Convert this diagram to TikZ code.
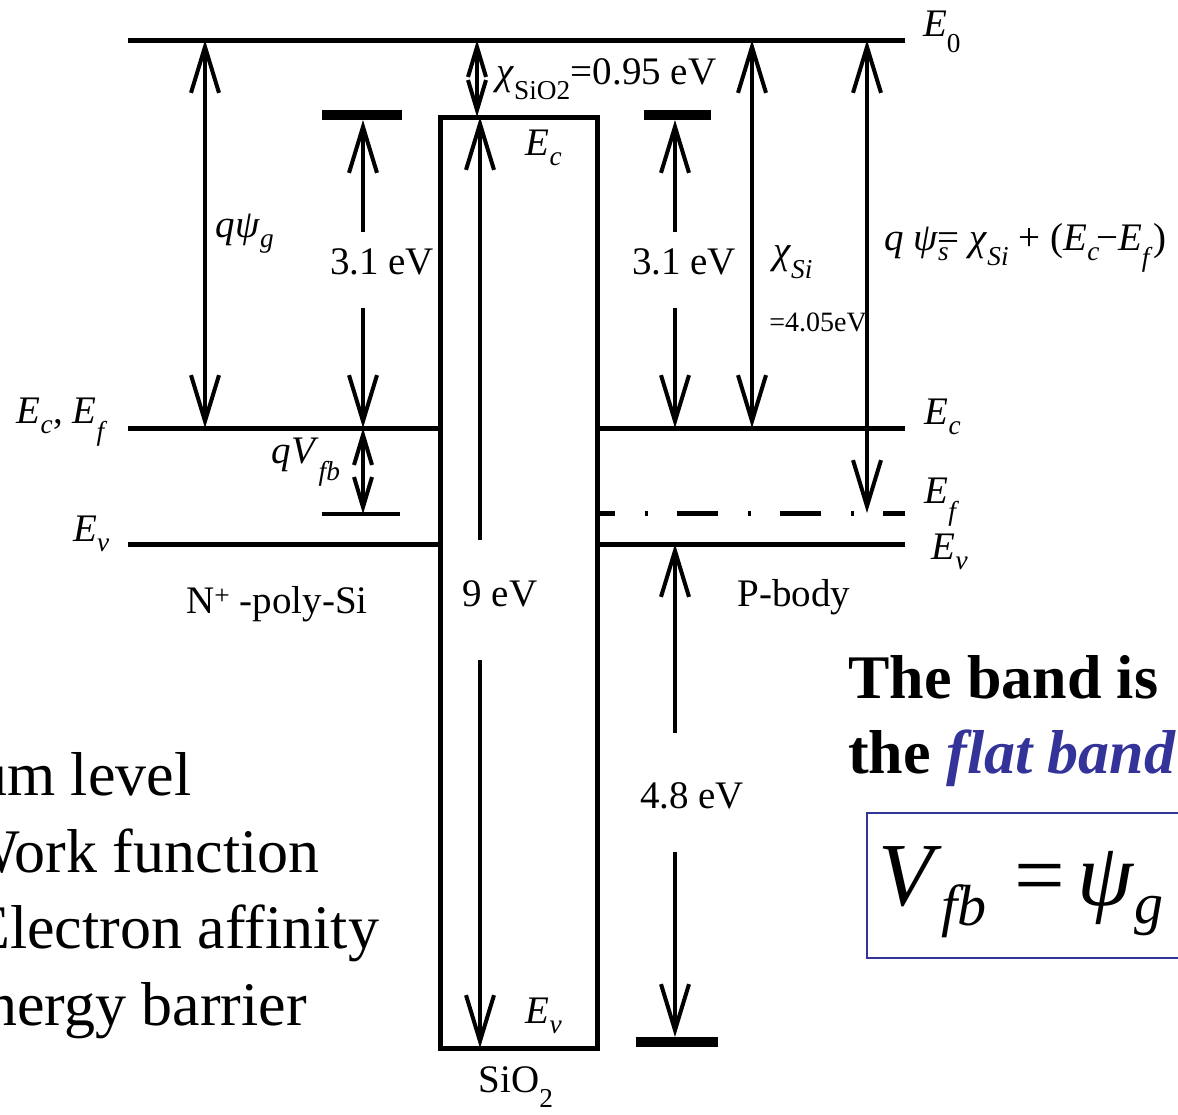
\documentclass[tikz,border=0pt]{standalone}
\usepackage{fontspec}
\setmainfont{Liberation Serif}
\usetikzlibrary{arrows.meta}
\definecolor{ink}{RGB}{0,0,0}
\definecolor{flatblue}{RGB}{51,51,153}
\newcommand{\lblfont}{\fontsize{39}{45}\selectfont}
\newcommand{\dn}[1]{\raisebox{-0.15em}{\textsubscript{#1}}}
\newcommand{\en}[1]{\textit{E}\dn{\textit{#1}}}
\tikzset{
  every picture/.style={x=1pt, y=-1pt, color=ink},
  level/.style={line width=5pt},
  stub/.style={line width=10pt},
  fermi/.style={line width=5pt, dash pattern=on 41pt off 30pt on 3pt off 29pt, dash phase=23pt},
  dim/.style={line width=4pt, >={Straight Barb[length=46pt, width=28pt]}},
  shortdim/.style={line width=4pt, >={Straight Barb[length=30pt, width=18pt]}},
  lbl/.style={font=\lblfont, inner sep=0pt},
  tinylbl/.style={font=\fontsize{28}{32}\selectfont, inner sep=0pt},
  note/.style={font=\fontsize{62}{74}\selectfont, inner sep=0pt, anchor=base west},
  headline/.style={font=\fontsize{62}{74}\selectfont\bfseries, inner sep=0pt, anchor=base west},
  formbox/.style={draw=flatblue, line width=2pt, inner sep=0pt, anchor=north west},
}
\begin{document}
\begin{tikzpicture}
  \useasboundingbox (0,0) rectangle (1178,1114);
  \clip (0,0) rectangle (1178,1114);
  % vacuum level
  \coordinate (vacA) at (128,40);
  \coordinate (vacB) at (905,40);
  \draw[level] (vacA) -- (vacB);
  \node[lbl] (vacLbl) at (942,32) {\textit{E}\dn{0}};
  % gate side
  \coordinate (gEcA) at (128,428);   \coordinate (gEcB) at (440,428);
  \coordinate (gEvA) at (128,544);   \coordinate (gEvB) at (440,544);
  \coordinate (gFbA) at (322,514);   \coordinate (gFbB) at (400,514);
  \coordinate (gTopA) at (322,115);  \coordinate (gTopB) at (402,115);
  \draw[level] (gEcA) -- (gEcB);
  \draw[level] (gEvA) -- (gEvB);
  \draw[line width=4pt] (gFbA) -- (gFbB);
  \draw[stub] (gTopA) -- (gTopB);
  % oxide
  \node[draw, level, inner sep=0pt, minimum width=157pt, minimum height=931pt] (ox) at (518.5,582.5) {};
  % body side
  \coordinate (bEcA) at (597,428);   \coordinate (bEcB) at (905,428);
  \coordinate (bEfA) at (597,513);   \coordinate (bEfB) at (905,513);
  \coordinate (bEvA) at (597,544);   \coordinate (bEvB) at (905,544);
  \coordinate (bTopA) at (644,115);  \coordinate (bTopB) at (711,115);
  \coordinate (bBotA) at (636,1042); \coordinate (bBotB) at (718,1042);
  \draw[level] (bEcA) -- (bEcB);
  \draw[fermi] (bEfA) -- (bEfB);
  \draw[level] (bEvA) -- (bEvB);
  \draw[stub] (bTopA) -- (bTopB);
  \draw[stub] (bBotA) -- (bBotB);

  % gate arrows
  \coordinate (psiGT) at (205,40);   \coordinate (psiGB) at (205,428);
  \draw[dim, <->] (psiGB) -- (psiGT);
  \coordinate (gBarTip) at (363,120); \coordinate (gEcTip) at (363,428);
  \coordinate (gGapT) at (363,232);   \coordinate (gGapB) at (363,308);
  \draw[dim, ->] (gGapT) -- (gBarTip);
  \draw[dim, ->] (gGapB) -- (gEcTip);
  \coordinate (gFbTip) at (363,514);
  \draw[shortdim, <->] (gEcTip) -- (gFbTip);
  % oxide arrows
  \coordinate (chiOxT) at (477,40);  \coordinate (chiOxB) at (477,117);
  \draw[shortdim, <->] (chiOxT) -- (chiOxB);
  \coordinate (oxTop) at (480,117);  \coordinate (oxBot) at (480,1048);
  \coordinate (oxGapT) at (480,540); \coordinate (oxGapB) at (480,660);
  \draw[dim, ->] (oxGapT) -- (oxTop);
  \draw[dim, ->] (oxGapB) -- (oxBot);
  % body arrows
  \coordinate (bBarTip) at (675,120); \coordinate (bEcTip) at (675,428);
  \coordinate (bGapT) at (675,232);   \coordinate (bGapB) at (675,308);
  \draw[dim, ->] (bGapT) -- (bBarTip);
  \draw[dim, ->] (bGapB) -- (bEcTip);
  \coordinate (chiSiT) at (752,40);  \coordinate (chiSiB) at (752,428);
  \draw[dim, <->] (chiSiT) -- (chiSiB);
  \coordinate (psiST) at (867,40);   \coordinate (psiSB) at (867,513);
  \draw[dim, <->] (psiST) -- (psiSB);
  \coordinate (vbTop) at (675,544);  \coordinate (vbBot) at (675,1037);
  \coordinate (vbGapT) at (675,733); \coordinate (vbGapB) at (675,852);
  \draw[dim, ->] (vbGapT) -- (vbTop);
  \draw[dim, ->] (vbGapB) -- (vbBot);

  % level and region labels
  \node[lbl, anchor=east] (gEcLbl) at (108,422) {\en{c}, \en{f}};
  \node[lbl, anchor=east] (gEvLbl) at (110,534) {\en{v}};
  \node[lbl] (bEcLbl) at (943,417) {\en{c}};
  \node[lbl] (bEfLbl) at (942,502) {\en{f}};
  \node[lbl] (bEvLbl) at (950,552) {\en{v}};
  \node[lbl] (oxEcLbl) at (544,148) {\en{c}};
  \node[lbl] (oxEvLbl) at (544,1016) {\en{v}};
  \node[lbl] (gateLbl) at (277,604) {N\textsuperscript{+} -poly-Si};
  \node[lbl] (bodyLbl) at (794,597) {P-body};
  \node[lbl, anchor=base] (oxLbl) at (516,1092) {SiO\dn{2}};
  % energy labels
  \node[lbl] (psiGLbl) at (245,234) {\textit{qψ}\dn{\textit{g}}};
  \node[lbl] (vfbLbl) at (306,462) {\textit{qV}\dn{\textit{fb}}};
  \node[lbl] (gGapLbl) at (382,262) {3.1 eV};
  \node[lbl] (bGapLbl) at (684,262) {3.1 eV};
  \node[lbl, anchor=base west] (chiOxLbl) at (496,84) {\textit{χ}\dn{SiO2}=0.95 eV};
  \node[lbl] (oxGapLbl) at (500,594) {9 eV};
  \node[lbl] (vbLbl) at (692,796) {4.8 eV};
  \node[lbl] (chiSiLbl) at (793,262) {\textit{χ}\dn{\textit{Si}}};
  \node[tinylbl] (chiSiVal) at (818,322) {=4.05eV};
  \node[lbl, anchor=west] (psiSLbl) at (884,248) {\textit{q} \textit{ψ}\dn{\textit{s}}\hspace{-0.3em}= \textit{χ}\dn{\textit{Si}} + (\en{c}\hspace{-0.1em}−\en{f})};

  % legend, cut off at the left
  \node[note] (lvVac) at (-148,795) {Vacuum level};
  \node[note] (lvWork) at (-39,872) {Work function};
  \node[note] (lvAff) at (-28,948) {Electron affinity};
  \node[note] (lvBar) at (-52,1025) {Energy barrier};

  % flat band statement
  \node[headline] (hdA) at (848,698) {The band is};
  \node[headline] (hdB) at (848,773) {the \textcolor{flatblue}{\itshape flat band}};
  \node[formbox, minimum width=330pt, minimum height=145pt] (vfbBox) at (866,812) {};
  \node[inner sep=0pt, anchor=base west, font=\fontsize{90}{90}\selectfont] (vfbEq) at (878,905)
    {\textit{V}\raisebox{-20pt}{\fontsize{58}{58}\selectfont\textit{fb}}\hspace{28pt}=\hspace{12pt}\textit{ψ}\raisebox{-18pt}{\fontsize{58}{58}\selectfont\textit{g}}};
\end{tikzpicture}
\end{document}
